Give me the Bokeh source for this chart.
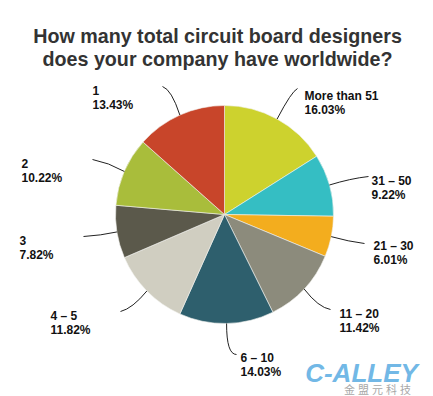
import numpy as np
import pandas as pd
from bokeh.plotting import figure
from bokeh.models import Range1d, ColumnDataSource
from bokeh.core.properties import value
from bokeh.embed import file_html
from bokeh.resources import INLINE

# ---- data ----
categories = ["More than 51", "31 \u2013 50", "21 \u2013 30", "11 \u2013 20", "6 \u2013 10",
              "4 \u2013 5", "3", "2", "1"]
percents = [16.03, 9.22, 6.01, 11.42, 14.03, 11.82, 7.82, 10.22, 13.43]
colors = ["#CDD22E", "#35BEC3", "#F3AD1E", "#8C8B7C", "#2E5F6D",
          "#D0CEC1", "#5B594B", "#A9BD3B", "#C8452A"]
title_lines = ["How many total circuit board designers",
               "does your company have worldwide?"]
logo_text = "C-ALLEY"
logo_chars = ["金", "盟", "元", "科", "技"]

# ---- layout (page pixel coordinates) ----
W, H = 433, 396
def Y(py):
    return H - np.asarray(py, dtype=float)

cx, cy, R = 224, 214, 109
label_x = [304, 371, 373, 339, 240, 50, 19, 21, 92]
label_y = [95, 180, 245, 313, 357, 315, 240, 163, 90]
leader_end = [(297, 88), (368, 176), (364, 243), (330, 309), (236, 354),
              (120, 311), (83, 236), (92, 159), (162, 86)]
leader_ctrl = [(291, 91), (350, 178), (348, 241), (318, 307), (226, 354),
               (132, 308), (100, 235), (108, 162), (171, 89)]
char_x = [349, 363, 377, 391, 405]

df = pd.DataFrame(dict(cat=categories, pct=percents, color=colors))
frac = df.pct / df.pct.sum()
cum_end = frac.cumsum()
cum_start = cum_end - frac
df["start"] = np.pi / 2 - 2 * np.pi * cum_end
df["end"] = np.pi / 2 - 2 * np.pi * cum_start
mid = 2 * np.pi * (cum_start + frac / 2)   # clockwise from top
df["x"] = cx
df["y"] = Y(cy)

p = figure(width=W, height=H, output_backend="svg", toolbar_location=None,
           x_range=Range1d(0, W), y_range=Range1d(Y(H), Y(0)),
           min_border=0, outline_line_color=None)
p.axis.visible = False
p.grid.visible = False
p.background_fill_color = "white"

src = ColumnDataSource(df)
p.wedge(x="x", y="y", radius=R, radius_units="screen",
        start_angle="start", end_angle="end", direction="anticlock",
        fill_color="color", line_color="#F2F2EE", line_width=0.6, source=src)

# leader lines
x0 = cx + R * np.sin(mid)
y0 = cy - R * np.cos(mid)
ex = [e[0] for e in leader_end]; ey = [e[1] for e in leader_end]
qx = [c[0] for c in leader_ctrl]; qy = [c[1] for c in leader_ctrl]
p.quadratic(x0=list(x0), y0=list(Y(y0)), x1=ex, y1=list(Y(ey)),
            cx=qx, cy=list(Y(qy)), line_color="#222222", line_width=1)

font = value("Liberation Sans")
p.text(x=label_x, y=list(Y(label_y)), text=categories, text_font=font,
       text_font_style="bold", text_font_size="12px", text_color="#111111",
       text_baseline="alphabetic", text_align="left")
p.text(x=label_x, y=list(Y(np.array(label_y) + 14.5)),
       text=[f"{v:.2f}%" for v in percents], text_font=font,
       text_font_style="bold", text_font_size="12px", text_color="#111111",
       text_baseline="alphabetic", text_align="left")

# title
p.text(x=[217, 217], y=list(Y([35, 58])), text=title_lines, text_font=font,
       text_font_style="bold", text_font_size="19.7px", text_color="#333333",
       text_baseline="alphabetic", text_align="center")

# watermark logo
p.text(x=[361], y=list(Y([372])), text=[logo_text], text_font=font,
       text_font_style="bold italic", text_font_size="26px", text_color="#72B8E6",
       text_baseline="alphabetic", text_align="center")
p.text(x=char_x, y=list(Y([388] * len(char_x))), text=logo_chars,
       text_font=value("Noto Sans CJK SC"),
       text_font_size="11px", text_color="#A8A8A8",
       text_baseline="alphabetic", text_align="center")

open("out.html", "w").write(file_html(p, INLINE))
